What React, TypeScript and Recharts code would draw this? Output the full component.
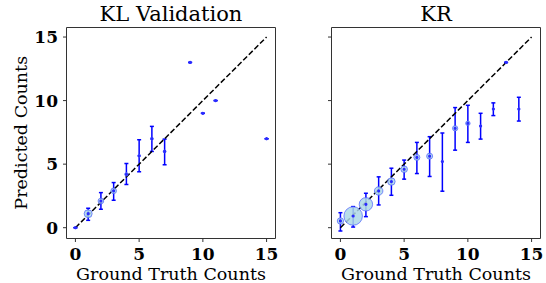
import React from "react";
import {
  ComposedChart,
  Scatter,
  XAxis,
  YAxis,
  ZAxis,
  ErrorBar,
  ReferenceLine,
  ReferenceArea,
} from "recharts";

// ---------- data ----------
const axisTicks = [0, 5, 10, 15];
const diagonal = [0, 15];

// KL Validation panel
const klTruth = [0, 1, 2, 3, 4, 5, 6, 7, 9, 10, 11, 15];
const klMean = [0, 1.1, 2.1, 2.9, 4.2, 5.66, 7.0, 6.0, 13, 9, 10, 7];
const klLow = [0, 0.58, 1.45, 2.16, 3.4, 4.4, 6.0, 4.95, 13, 9, 10, 7];
const klHigh = [0, 1.53, 2.76, 3.55, 5.05, 6.92, 7.97, 6.97, 13, 9, 10, 7];
const klCount = [1, 16, 8, 8, 3, 2, 2, 2, 1, 1, 1, 1];

// KR panel
const krTruth = [0, 1, 2, 3, 4, 5, 6, 7, 8, 9, 10, 11, 12, 13, 14];
const krMean = [0.53, 0.92, 1.84, 2.89, 3.63, 4.6, 5.53, 5.63, 5.21, 7.82, 8.21, 8.0, 9.34, 13, 9.34];
const krLow = [-0.26, 0.05, 0.87, 1.79, 2.55, 3.82, 4.26, 4.03, 2.87, 6.1, 6.71, 6.97, 8.82, 13, 8.39];
const krHigh = [1.18, 1.66, 2.71, 4.0, 4.68, 5.32, 6.71, 7.16, 7.45, 9.45, 9.63, 9.0, 9.82, 13, 10.26];
const krCount = [10, 86, 45, 18, 14, 11, 9, 9, 1, 7, 5, 1, 1, 1, 1];

const buildRows = (xs: number[], ms: number[], lo: number[], hi: number[], ns: number[]) =>
  xs.map((x, i) => ({ x, y: ms[i], err: [ms[i] - lo[i], hi[i] - ms[i]], n: ns[i] }));

const klRows = buildRows(klTruth, klMean, klLow, klHigh, klCount);
const krRows = buildRows(krTruth, krMean, krLow, krHigh, krCount);

// ---------- styles ----------
const FONT = "'DejaVu Serif', serif";
const xDomain: [number, number] = [-0.7, 15.7];
const yDomain: [number, number] = [-0.85, 15.75];
const tickStyle = { fontFamily: FONT, fontWeight: 700, fontSize: 17, fill: "#000" };

function Panel({ rows, showYLabels, yAxisWidth, rightMargin, width }: any) {
  return (
    <ComposedChart
      width={width}
      height={283}
      margin={{ top: 27.5, right: rightMargin, bottom: 0, left: 0 }}
    >
      <XAxis
        type="number"
        dataKey="x"
        domain={xDomain}
        ticks={axisTicks}
        allowDataOverflow
        height={44.5}
        axisLine={false}
        tickLine={{ stroke: "#333", strokeWidth: 1 }}
        tickSize={3.5}
        tickMargin={6}
        tick={tickStyle}
      />
      <YAxis
        type="number"
        dataKey="y"
        domain={yDomain}
        ticks={axisTicks}
        allowDataOverflow
        width={yAxisWidth}
        axisLine={false}
        tickLine={{ stroke: "#333", strokeWidth: 1 }}
        tickSize={3.5}
        tickMargin={5}
        tick={showYLabels ? tickStyle : () => <g />}
      />
      <ZAxis zAxisId="size" dataKey="n" type="number" domain={[0, 100]} range={[0, 314]} />
      <ZAxis zAxisId="dot" dataKey="n" type="number" range={[8, 8]} />
      <ReferenceArea
        x1={xDomain[0]}
        x2={xDomain[1]}
        y1={yDomain[0]}
        y2={yDomain[1]}
        fill="none"
        stroke="#333"
        strokeWidth={1}
        ifOverflow="visible"
      />
      <Scatter
        data={rows}
        zAxisId="size"
        fill="#add8e6"
        fillOpacity={0.85}
        stroke="#4a5cff"
        strokeOpacity={0.7}
        strokeWidth={1}
        isAnimationActive={false}
      />
      <Scatter data={rows} zAxisId="dot" fill="#2a2aff" isAnimationActive={false}>
        <ErrorBar
          dataKey="err"
          direction="y"
          width={2}
          stroke="#0000ff"
          strokeWidth={1.5}
          isAnimationActive={false}
        />
      </Scatter>
      <ReferenceLine
        segment={[
          { x: diagonal[0], y: diagonal[0] },
          { x: diagonal[1], y: diagonal[1] },
        ]}
        stroke="#000"
        strokeWidth={1.5}
        strokeDasharray="5.5 2.4"
        ifOverflow="visible"
      />
    </ComposedChart>
  );
}

const textBase: React.CSSProperties = {
  position: "absolute",
  fontFamily: FONT,
  color: "#000",
  whiteSpace: "nowrap",
  textAlign: "center",
  lineHeight: 1,
};

export default function App() {
  return (
    <div style={{ position: "absolute", left: 0, top: 0, width: 546, height: 283, background: "#fff" }}>
      <div style={{ position: "absolute", left: 0, top: 0 }}>
        <Panel rows={klRows} showYLabels yAxisWidth={66.5} rightMargin={14.5} width={290} />
      </div>
      <div style={{ position: "absolute", left: 290, top: 0 }}>
        <Panel rows={krRows} showYLabels={false} yAxisWidth={41.5} rightMargin={5.5} width={256} />
      </div>
      <div style={{ ...textBase, left: 71, width: 200, top: 4, fontSize: 21 }}>KL Validation</div>
      <div style={{ ...textBase, left: 336, width: 200, top: 4, fontSize: 21 }}>KR</div>
      <div style={{ ...textBase, left: 71, width: 200, top: 266, fontSize: 17.5 }}>Ground Truth Counts</div>
      <div style={{ ...textBase, left: 336, width: 200, top: 266, fontSize: 17.5 }}>Ground Truth Counts</div>
      <div
        style={{
          ...textBase,
          left: 22 - 100,
          width: 200,
          top: 133 - 9,
          fontSize: 17.5,
          transform: "rotate(-90deg)",
        }}
      >
        Predicted Counts
      </div>
    </div>
  );
}
